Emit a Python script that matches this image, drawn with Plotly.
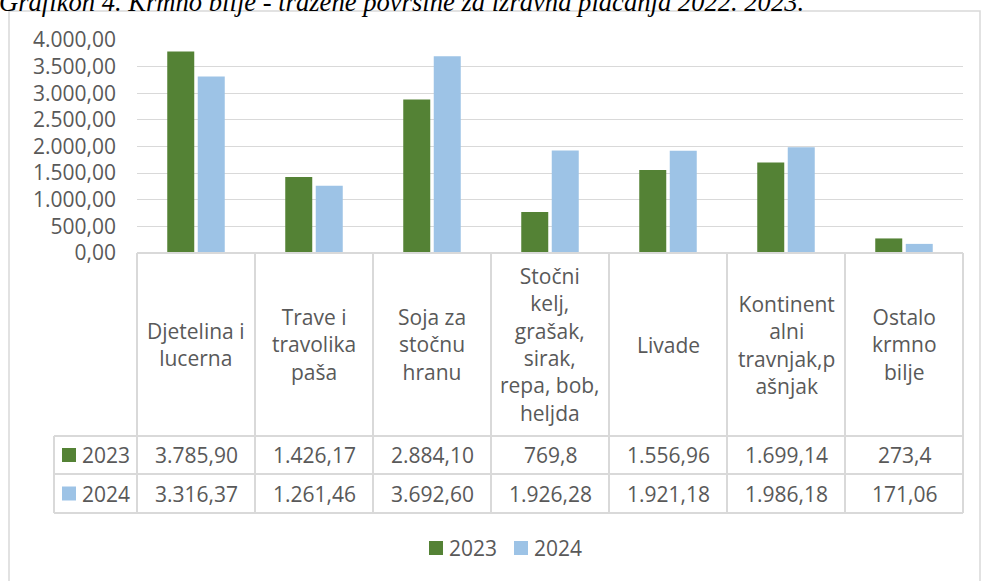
import plotly.graph_objects as go

# ---------------- data ----------------
categories = ["Djetelina i lucerna", "Trave i travolika paša", "Soja za stočnu hranu",
              "Stočni kelj, grašak, sirak, repa, bob, heljda", "Livade",
              "Kontinentalni travnjak,pašnjak", "Ostalo krmno bilje"]
category_labels = ["Djetelina i<br>lucerna", "Trave i<br>travolika<br>paša", "Soja za<br>stočnu<br>hranu",
                   "Stočni<br>kelj,<br>grašak,<br>sirak,<br>repa, bob,<br>heljda", "Livade",
                   "Kontinent<br>alni<br>travnjak,p<br>ašnjak", "Ostalo<br>krmno<br>bilje"]
series_names = ["2023", "2024"]
values_2023 = [3785.90, 1426.17, 2884.10, 769.8, 1556.96, 1699.14, 273.4]
values_2024 = [3316.37, 1261.46, 3692.60, 1926.28, 1921.18, 1986.18, 171.06]
labels_2023 = ["3.785,90", "1.426,17", "2.884,10", "769,8", "1.556,96", "1.699,14", "273,4"]
labels_2024 = ["3.316,37", "1.261,46", "3.692,60", "1.926,28", "1.921,18", "1.986,18", "171,06"]
y_ticks = [0, 500, 1000, 1500, 2000, 2500, 3000, 3500, 4000]
title_text = "Grafikon 4. Krmno bilje - tražene površine za izravna plaćanja 2022. 2023."

# ---------------- style ----------------
W, H = 981, 581
colors = ["#548235", "#9dc3e6"]
TXT = "#595959"
LINE = "#d9d9d9"
FONT = "Open Sans"
FS = 21


def px(x):
    return x / W


def py(y):
    return 1 - y / H


fig = go.Figure()
for name, vals, col in zip(series_names, [values_2023, values_2024], colors):
    fig.add_trace(go.Bar(x=list(range(len(categories))), y=vals, name=name,
                         marker=dict(color=col, line=dict(width=0)),
                         hovertext=categories, showlegend=False))

shapes = []
annotations = []

# chart outer border
shapes.append(dict(type="rect", xref="paper", yref="paper", x0=px(9), x1=px(980),
                   y0=py(600), y1=py(11), line=dict(color=LINE, width=1.5), layer="below"))

# data table lines
tl = dict(color=LINE, width=2)
n = len(categories)
x_left = px(137)
x_right = px(963)
cell_w = (x_right - x_left) / n
for k in range(n + 1):
    xx = x_left + k * cell_w
    shapes.append(dict(type="line", xref="paper", yref="paper", x0=xx, x1=xx,
                       y0=py(253), y1=py(513), line=tl))
shapes.append(dict(type="line", xref="paper", yref="paper", x0=px(54), x1=px(54),
                   y0=py(436), y1=py(513), line=tl))
shapes.append(dict(type="line", xref="paper", yref="paper", x0=x_left, x1=x_right,
                   y0=py(253), y1=py(253), line=tl))
for yy in [436, 474, 513]:
    shapes.append(dict(type="line", xref="paper", yref="paper", x0=px(54), x1=x_right,
                       y0=py(yy), y1=py(yy), line=tl))

# category labels
for i, lab in enumerate(category_labels):
    annotations.append(dict(x=i, xref="x", y=py(344.5), yref="paper", text=lab,
                            showarrow=False, xanchor="center", yanchor="middle",
                            font=dict(family=FONT, size=FS, color=TXT), align="center"))

# table rows
row_centers = [455, 493.5]
for name, labs, col, yc in zip(series_names, [labels_2023, labels_2024], colors, row_centers):
    shapes.append(dict(type="rect", xref="paper", yref="paper", x0=px(62), x1=px(76),
                       y0=py(yc - 7), y1=py(yc + 7), fillcolor=col, line=dict(width=0)))
    annotations.append(dict(x=px(80), xref="paper", y=py(yc), yref="paper", text=name,
                            showarrow=False, xanchor="left", yanchor="middle",
                            font=dict(family=FONT, size=FS, color=TXT)))
    for i, t in enumerate(labs):
        annotations.append(dict(x=i, xref="x", y=py(yc), yref="paper", text=t,
                                showarrow=False, xanchor="center", yanchor="middle",
                                font=dict(family=FONT, size=FS, color=TXT)))

# bottom legend
leg_y = 548
for name, col, sx in zip(series_names, colors, [429, 514]):
    shapes.append(dict(type="rect", xref="paper", yref="paper", x0=px(sx), x1=px(sx + 14),
                       y0=py(leg_y - 7), y1=py(leg_y + 7), fillcolor=col, line=dict(width=0)))
    annotations.append(dict(x=px(sx + 18), xref="paper", y=py(leg_y), yref="paper", text=name,
                            showarrow=False, xanchor="left", yanchor="middle",
                            font=dict(family=FONT, size=FS, color=TXT)))

# cut-off caption at top
annotations.append(dict(x=px(-3), xref="paper", y=py(19), yref="paper",
                        text="<i>" + title_text + "</i>", showarrow=False,
                        xanchor="left", yanchor="bottom",
                        font=dict(family="Liberation Serif", size=26.6, color="#000000")))

fig.update_layout(
    width=W, height=H,
    margin=dict(l=0, r=0, t=0, b=0, autoexpand=False),
    paper_bgcolor="white", plot_bgcolor="white",
    separators=",.",
    bargap=0.483, bargroupgap=0.115, barmode="group",
    showlegend=False,
    xaxis=dict(domain=[x_left, x_right], range=[-0.5, n - 0.5], showticklabels=False,
               showgrid=False, zeroline=False, showline=False, ticks="", automargin=False),
    yaxis=dict(domain=[py(253), py(40)], range=[0, 4000], tickvals=y_ticks,
               tickformat=",.2f", showgrid=True, gridcolor=LINE, gridwidth=1.3,
               zeroline=False, showline=False, ticks="", ticklabelstandoff=20,
               automargin=False,
               tickfont=dict(family=FONT, size=FS, color=TXT)),
    shapes=shapes, annotations=annotations,
)

fig.write_html("out.html", config={"displayModeBar": False},
               post_script="document.body.style.margin='0';document.body.style.overflow='hidden';")
